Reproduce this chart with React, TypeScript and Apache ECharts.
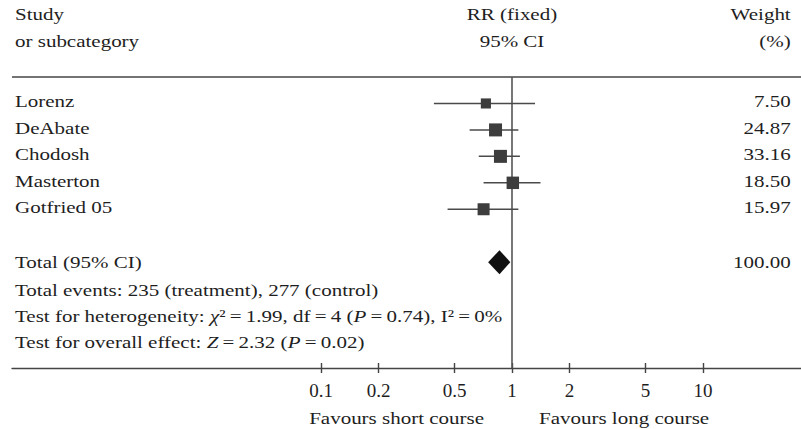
import React, { useEffect, useRef } from 'react';
import * as echarts from 'echarts';

// ---------- data ----------
const STUDIES = ['Lorenz', 'DeAbate', 'Chodosh', 'Masterton', 'Gotfried 05'];
const RR = [0.73, 0.82, 0.87, 1.01, 0.71];
const CI_LOW = [0.39, 0.6, 0.67, 0.71, 0.46];
const CI_HIGH = [1.32, 1.08, 1.1, 1.41, 1.08];
const WEIGHTS = [7.5, 24.87, 33.16, 18.5, 15.97];

const TOTAL_LABEL = 'Total (95% CI)';
const TOTAL_RR = 0.86;
const TOTAL_CI_LOW = 0.75;
const TOTAL_CI_HIGH = 0.98;
const TOTAL_WEIGHT = 100;

const EQ = '\u2009=\u2009';
const FOOTER_LINES = [
  'Total events: 235 (treatment), 277 (control)',
  `Test for heterogeneity: {i|χ}²${EQ}1.99, df${EQ}4 ({i|P}${EQ}0.74), I²${EQ}0%`,
  `Test for overall effect: {i|Z}${EQ}2.32 ({i|P}${EQ}0.02)`,
];

const HEADER_LEFT = ['Study', 'or subcategory'];
const HEADER_CENTER = ['RR (fixed)', '95% CI'];
const HEADER_RIGHT = ['Weight', '(%)'];

const TICKS = [0.1, 0.2, 0.5, 1, 2, 5, 10];
const FAVOURS = ['Favours short course', 'Favours long course'];

// axis domain (relative risk units)
const AXIS_MIN_RR = 0.00241;
const AXIS_MAX_RR = 32.6;

// ---------- style ----------
const FONT_FAMILY = '"Liberation Serif", "Times New Roman", Times, serif';
const FONT_SIZE = 17.5;
const TEXT_SCALE_X = 1.2;
const TEXT_COLOR = '#1e1e1e';

type TextItem = {
  text: string;
  row: number;
  anchor: 'left' | 'right' | 'center';
  dx?: number;
  dy?: number;
  align?: 'left' | 'right' | 'center';
};

function buildTexts(): TextItem[] {
  const out: TextItem[] = [];
  const headerRows = [-3.38, -2.36];
  HEADER_LEFT.forEach((t, i) => out.push({ text: t, row: headerRows[i], anchor: 'left' }));
  HEADER_CENTER.forEach((t, i) => out.push({ text: t, row: headerRows[i], anchor: 'center' }));
  HEADER_RIGHT.forEach((t, i) => out.push({ text: t, row: headerRows[i], anchor: 'right' }));
  STUDIES.forEach((s, i) => {
    out.push({ text: s, row: i, anchor: 'left', dy: -2 });
    out.push({ text: WEIGHTS[i].toFixed(2), row: i, anchor: 'right', dy: -2 });
  });
  const totalRow = STUDIES.length + 1;
  out.push({ text: TOTAL_LABEL, row: totalRow, anchor: 'left' });
  out.push({ text: TOTAL_WEIGHT.toFixed(2), row: totalRow, anchor: 'right' });
  FOOTER_LINES.forEach((t, i) => out.push({ text: t, row: totalRow + 1 + i, anchor: 'left', dy: 1 }));
  out.push({ text: FAVOURS[0], row: 11.89, anchor: 'center', dx: -28, align: 'right' });
  out.push({ text: FAVOURS[1], row: 11.89, anchor: 'center', dx: 27, align: 'left' });
  return out;
}

export default function App() {
  const ref = useRef<HTMLDivElement>(null);

  useEffect(() => {
    const el = ref.current;
    if (!el) return;
    const chart = echarts.init(el, null, { renderer: 'svg' });

    const xMin = Math.log10(AXIS_MIN_RR);
    const xMax = Math.log10(AXIS_MAX_RR);
    const tickVals = TICKS.map((t) => Math.log10(t));
    const fmt = (v: number) => {
      const t = TICKS.find((tt) => Math.abs(Math.log10(tt) - v) < 1e-6);
      return t === undefined ? '' : String(t);
    };
    const texts = buildTexts();
    const rich = {
      i: { fontStyle: 'italic', fontFamily: FONT_FAMILY, fontSize: FONT_SIZE, fill: TEXT_COLOR },
    };
    const totalRow = STUDIES.length + 1;

    const studyData = STUDIES.map((_, i) => [
      Math.log10(RR[i]),
      i,
      Math.log10(CI_LOW[i]),
      Math.log10(CI_HIGH[i]),
      WEIGHTS[i],
    ]);

    const option: any = {
      animation: false,
      grid: { left: 12, right: 0, top: 77, bottom: 61 },
      xAxis: [
        {
          type: 'value',
          min: xMin,
          max: xMax,
          position: 'bottom',
          axisLine: { show: true, onZero: false, lineStyle: { color: '#444', width: 1.4 } },
          axisTick: {
            show: true,
            inside: false,
            length: 5,
            customValues: tickVals,
            lineStyle: { color: '#444', width: 1.4 },
          },
          axisLabel: {
            show: true,
            customValues: tickVals,
            formatter: fmt,
            margin: 13,
            fontFamily: FONT_FAMILY,
            fontSize: 19,
            color: TEXT_COLOR,
          },
          splitLine: { show: false },
        },
        {
          type: 'value',
          min: xMin,
          max: xMax,
          position: 'bottom',
          axisLine: { show: false, onZero: false },
          axisTick: {
            show: true,
            inside: true,
            length: 5,
            customValues: tickVals,
            lineStyle: { color: '#444', width: 1.4 },
          },
          axisLabel: { show: false },
          splitLine: { show: false },
        },
      ],
      yAxis: { type: 'value', inverse: true, min: -1, max: 10, show: false },
      series: [
        {
          name: 'reference lines',
          type: 'custom',
          silent: true,
          data: [[0, -1]],
          renderItem: (_p: any, api: any) => {
            const top = api.coord([0, -1]);
            const bottom = api.coord([0, 10]);
            const left = api.coord([xMin, -1]);
            const right = api.coord([xMax, -1]);
            return {
              type: 'group',
              children: [
                {
                  type: 'line',
                  shape: { x1: left[0], y1: left[1], x2: right[0], y2: right[1] },
                  style: { stroke: '#444', lineWidth: 1.4 },
                },
                {
                  type: 'line',
                  shape: { x1: top[0], y1: top[1], x2: bottom[0], y2: bottom[1] },
                  style: { stroke: '#555', lineWidth: 1.6 },
                },
              ],
            };
          },
        },
        {
          name: 'studies',
          type: 'custom',
          silent: true,
          data: studyData,
          renderItem: (_p: any, api: any) => {
            const y = api.value(1);
            const c = api.coord([api.value(0), y]);
            const lo = api.coord([api.value(2), y]);
            const hi = api.coord([api.value(3), y]);
            const w = api.value(4);
            const s = Math.min(13, 6 + Math.sqrt(w) * 1.5);
            return {
              type: 'group',
              children: [
                {
                  type: 'line',
                  shape: { x1: lo[0], y1: c[1], x2: hi[0], y2: c[1] },
                  style: { stroke: '#4a4a4a', lineWidth: 1.5 },
                },
                {
                  type: 'rect',
                  shape: { x: c[0] - s / 2, y: c[1] - s / 2, width: s, height: s },
                  style: { fill: '#3d3d3d' },
                },
              ],
            };
          },
        },
        {
          name: 'total',
          type: 'custom',
          silent: true,
          data: [[Math.log10(TOTAL_RR), totalRow, Math.log10(TOTAL_CI_LOW), Math.log10(TOTAL_CI_HIGH)]],
          renderItem: (_p: any, api: any) => {
            const y = api.value(1);
            const c = api.coord([api.value(0), y]);
            const lo = api.coord([api.value(2), y]);
            const hi = api.coord([api.value(3), y]);
            const h = 12;
            return {
              type: 'polygon',
              shape: {
                points: [
                  [lo[0], c[1]],
                  [c[0], c[1] - h],
                  [hi[0], c[1]],
                  [c[0], c[1] + h],
                ],
              },
              style: { fill: '#111' },
            };
          },
        },
        {
          name: 'table text',
          type: 'custom',
          silent: true,
          data: texts.map((t) => [0, t.row]),
          renderItem: (params: any, api: any) => {
            const t = texts[params.dataIndex];
            const p = api.coord([0, t.row]);
            const left = api.coord([xMin, t.row])[0];
            const right = api.coord([xMax, t.row])[0];
            let x: number;
            let align: string;
            if (t.anchor === 'left') {
              x = left + 3;
              align = 'left';
            } else if (t.anchor === 'right') {
              x = right - 10.3;
              align = 'right';
            } else {
              x = p[0] + (t.dx || 0);
              align = t.align || 'center';
            }
            return {
              type: 'text',
              x,
              y: p[1] + (t.dy || 0),
              scaleX: TEXT_SCALE_X,
              style: {
                text: t.text,
                fontFamily: FONT_FAMILY,
                fontSize: FONT_SIZE,
                fill: TEXT_COLOR,
                align,
                textAlign: align,
                verticalAlign: 'middle',
                textVerticalAlign: 'middle',
                rich,
              },
            };
          },
        },
      ],
    };

    chart.setOption(option);
    return () => {
      chart.dispose();
    };
  }, []);

  return (
    <div
      ref={ref}
      style={{ position: 'absolute', left: 0, top: 0, width: 801, height: 429, background: '#fff' }}
    />
  );
}
